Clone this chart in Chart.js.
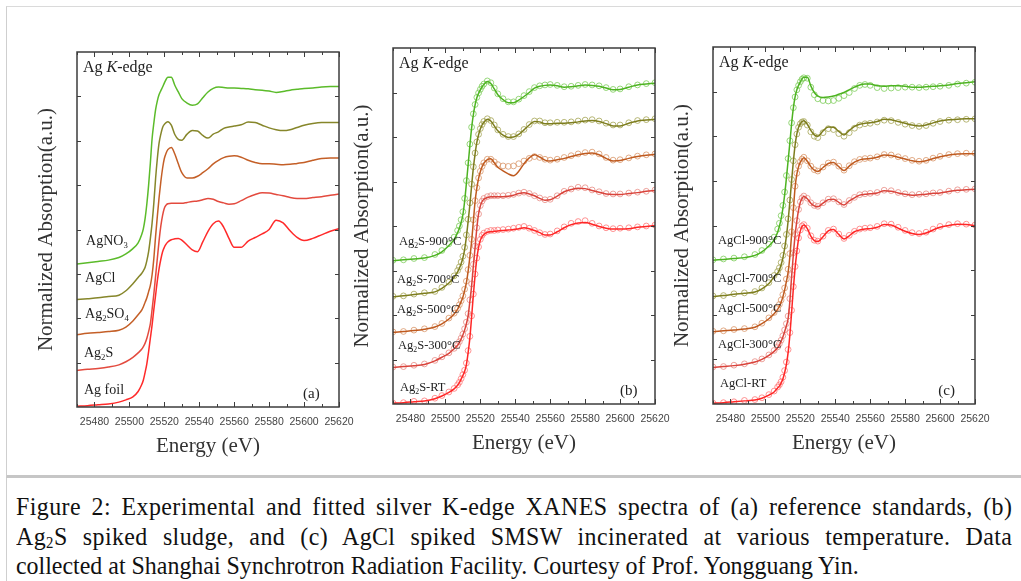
<!DOCTYPE html>
<html>
<head>
<meta charset="utf-8">
<title>Ag K-edge XANES</title>
<script src="https://cdn.jsdelivr.net/npm/chart.js@4.4.1/dist/chart.umd.min.js"></script>
<style>
  html, body { margin: 0; padding: 0; background: #fff; }
  body { position: relative; width: 1021px; height: 581px; overflow: hidden; }
  .box { position: absolute; left: 6px; top: 6px; right: 0; height: 468px;
         border-left: 1px solid #cfcfcf; border-top: 1px solid #dadada; border-bottom: 3px solid #c6c6c6; }
  .side { position: absolute; left: 6px; top: 478px; bottom: 0; border-left: 1px solid #cfcfcf; }
  canvas { position: absolute; top: 0; }
  .caption { position: absolute; left: 16px; top: 492px; width: 1083px;
             font-family: 'Liberation Serif', 'Times New Roman', serif; font-size: 26px; line-height: 29.5px;
             color: #111; transform: scaleX(0.92); transform-origin: 0 0; }
  .caption .j { text-align: justify; text-align-last: justify; letter-spacing: 0.45px; }
  .caption sub { font-size: 0.62em; vertical-align: -0.2em; line-height: 0; }
</style>
</head>
<body>
<div class="box"></div>
<div class="side"></div>
<canvas id="panelA" width="362" height="470" style="left:0px"></canvas>
<canvas id="panelB" width="330" height="470" style="left:340px"></canvas>
<canvas id="panelC" width="361" height="470" style="left:660px"></canvas>
<div class="caption">
  <div class="j">Figure 2: Experimental and fitted silver K-edge XANES spectra of (a) reference standards, (b)</div>
  <div class="j">Ag<sub>2</sub>S spiked sludge, and (c) AgCl spiked SMSW incinerated at various temperature. Data</div>
  <div>collected at Shanghai Synchrotron Radiation Facility. Courtesy of Prof. Yongguang Yin.</div>
</div>
<script>
// energy grid (eV)
const E = [25470, 25476, 25482, 25488, 25494, 25498, 25502, 25505, 25507, 25508, 25509, 25510, 25511, 25512, 25513, 25514, 25515, 25516, 25517, 25518, 25519, 25520, 25521, 25522, 25524, 25526, 25528, 25530, 25533, 25536, 25539, 25542, 25545, 25548, 25551, 25554, 25557, 25560, 25564, 25568, 25572, 25576, 25580, 25584, 25588, 25592, 25596, 25600, 25605, 25610, 25615, 25620];

const xTickLabels = [25480, 25500, 25520, 25540, 25560, 25580, 25600, 25620];
const xMinorTicks = [25470, 25490, 25510, 25530, 25550, 25570, 25590, 25610];
const yTicks = [1, 2, 3, 4, 5, 6, 7];

// (a) reference standards
const agFoil = [0.015, 0.03, 0.05, 0.07, 0.11, 0.16, 0.23, 0.35, 0.5, 0.61, 0.78, 0.98, 1.25, 1.55, 1.85, 2.2, 2.52, 2.85, 3.12, 3.33, 3.5, 3.6, 3.67, 3.72, 3.77, 3.79, 3.8, 3.76, 3.65, 3.54, 3.5, 3.72, 3.96, 4.13, 4.19, 4.05, 3.8, 3.6, 3.6, 3.74, 3.82, 3.9, 4.0, 4.21, 4.15, 3.97, 3.82, 3.75, 3.8, 3.88, 3.96, 4.02];
const ag2S = [0.825, 0.85, 0.87, 0.9, 0.95, 1.02, 1.12, 1.22, 1.3, 1.36, 1.44, 1.55, 1.7, 1.88, 2.2, 2.55, 2.95, 3.35, 3.75, 4.08, 4.32, 4.48, 4.55, 4.58, 4.59, 4.59, 4.59, 4.59, 4.61, 4.63, 4.64, 4.67, 4.7, 4.68, 4.63, 4.6, 4.57, 4.58, 4.65, 4.73, 4.79, 4.83, 4.82, 4.79, 4.76, 4.72, 4.7, 4.7, 4.72, 4.74, 4.77, 4.8];
const ag2SO4 = [1.63, 1.66, 1.68, 1.7, 1.73, 1.8, 1.94, 2.08, 2.18, 2.26, 2.36, 2.46, 2.6, 2.74, 2.98, 3.35, 3.85, 4.3, 4.72, 5.08, 5.38, 5.6, 5.72, 5.8, 5.85, 5.7, 5.48, 5.28, 5.16, 5.16, 5.2, 5.28, 5.37, 5.48, 5.56, 5.62, 5.65, 5.66, 5.63, 5.56, 5.51, 5.48, 5.48, 5.47, 5.46, 5.47, 5.49, 5.51, 5.56, 5.6, 5.61, 5.61];
const agCl = [2.42, 2.44, 2.46, 2.49, 2.52, 2.62, 2.78, 2.92, 3.01, 3.07, 3.15, 3.3, 3.5, 3.8, 4.15, 4.6, 5.15, 5.6, 5.95, 6.15, 6.3, 6.37, 6.41, 6.43, 6.35, 6.14, 6.03, 6.01, 6.15, 6.23, 6.22, 6.12, 6.06, 6.15, 6.2, 6.28, 6.31, 6.33, 6.36, 6.42, 6.41, 6.35, 6.29, 6.25, 6.23, 6.25, 6.3, 6.35, 6.39, 6.41, 6.41, 6.41];
const agNO3 = [3.22, 3.25, 3.28, 3.31, 3.37, 3.45, 3.57, 3.7, 3.88, 4.02, 4.25, 4.58, 5.0, 5.5, 6.05, 6.4, 6.7, 6.9, 7.04, 7.13, 7.21, 7.3, 7.38, 7.43, 7.43, 7.25, 7.1, 6.95, 6.85, 6.8, 6.83, 6.97, 7.1, 7.18, 7.21, 7.2, 7.19, 7.19, 7.18, 7.17, 7.15, 7.14, 7.12, 7.09, 7.11, 7.14, 7.16, 7.18, 7.19, 7.21, 7.22, 7.22];

// (b) Ag2S spiked sludge: fit and experiment
const bRT = [0.015, 0.03, 0.05, 0.07, 0.12, 0.18, 0.26, 0.34, 0.42, 0.48, 0.56, 0.64, 0.73, 0.88, 1.15, 1.48, 1.95, 2.45, 2.9, 3.27, 3.52, 3.68, 3.76, 3.81, 3.86, 3.87, 3.88, 3.89, 3.9, 3.91, 3.92, 3.94, 3.96, 3.94, 3.9, 3.85, 3.8, 3.8, 3.87, 3.96, 4.03, 4.07, 4.08, 4.04, 3.99, 3.95, 3.93, 3.93, 3.94, 3.97, 3.99, 4.01];
const bRTexp = [0.02, 0.03, 0.06, 0.07, 0.13, 0.19, 0.27, 0.35, 0.43, 0.49, 0.57, 0.66, 0.76, 0.92, 1.2, 1.52, 1.98, 2.47, 2.92, 3.28, 3.53, 3.7, 3.79, 3.84, 3.88, 3.9, 3.9, 3.91, 3.92, 3.93, 3.95, 3.97, 3.99, 3.95, 3.9, 3.85, 3.81, 3.82, 3.89, 3.98, 4.06, 4.1, 4.12, 4.06, 4.0, 3.96, 3.94, 3.95, 3.96, 3.98, 4.0, 4.02];
const b300 = [0.82, 0.84, 0.86, 0.89, 0.97, 1.05, 1.14, 1.24, 1.32, 1.38, 1.46, 1.55, 1.66, 1.8, 1.98, 2.3, 2.65, 3.1, 3.52, 3.95, 4.27, 4.45, 4.55, 4.6, 4.64, 4.66, 4.66, 4.66, 4.66, 4.67, 4.69, 4.73, 4.75, 4.72, 4.68, 4.62, 4.58, 4.59, 4.67, 4.77, 4.82, 4.85, 4.84, 4.8, 4.76, 4.72, 4.71, 4.71, 4.73, 4.75, 4.78, 4.8];
const b300exp = [0.83, 0.84, 0.87, 0.9, 0.98, 1.06, 1.15, 1.25, 1.33, 1.4, 1.48, 1.57, 1.69, 1.84, 2.03, 2.34, 2.7, 3.14, 3.55, 3.96, 4.27, 4.46, 4.56, 4.62, 4.66, 4.68, 4.68, 4.68, 4.68, 4.69, 4.71, 4.74, 4.76, 4.73, 4.68, 4.63, 4.59, 4.6, 4.68, 4.78, 4.83, 4.87, 4.86, 4.81, 4.77, 4.73, 4.72, 4.72, 4.74, 4.76, 4.78, 4.81];
const b500 = [1.61, 1.63, 1.65, 1.68, 1.73, 1.8, 1.91, 2.02, 2.13, 2.21, 2.3, 2.4, 2.55, 2.72, 2.98, 3.3, 3.65, 4.1, 4.55, 4.85, 5.07, 5.22, 5.33, 5.41, 5.49, 5.51, 5.42, 5.32, 5.24, 5.17, 5.13, 5.23, 5.4, 5.53, 5.6, 5.55, 5.48, 5.46, 5.49, 5.52, 5.56, 5.6, 5.63, 5.64, 5.6, 5.52, 5.46, 5.47, 5.52, 5.56, 5.59, 5.61];
const b500exp = [1.62, 1.63, 1.66, 1.69, 1.74, 1.81, 1.93, 2.04, 2.15, 2.23, 2.32, 2.43, 2.58, 2.76, 3.02, 3.34, 3.7, 4.14, 4.57, 4.86, 5.08, 5.23, 5.34, 5.42, 5.5, 5.5, 5.44, 5.38, 5.35, 5.34, 5.35, 5.4, 5.46, 5.52, 5.56, 5.54, 5.5, 5.48, 5.5, 5.54, 5.58, 5.62, 5.65, 5.66, 5.62, 5.54, 5.48, 5.49, 5.53, 5.57, 5.6, 5.62];
const b700 = [2.41, 2.43, 2.46, 2.49, 2.52, 2.6, 2.72, 2.85, 2.97, 3.05, 3.15, 3.28, 3.47, 3.75, 4.1, 4.47, 4.9, 5.3, 5.62, 5.88, 6.05, 6.18, 6.27, 6.33, 6.4, 6.36, 6.25, 6.14, 6.04, 5.99, 6.0, 6.06, 6.16, 6.27, 6.35, 6.34, 6.3, 6.3, 6.31, 6.31, 6.32, 6.34, 6.36, 6.37, 6.35, 6.3, 6.25, 6.25, 6.31, 6.36, 6.38, 6.4];
const b700exp = [2.42, 2.43, 2.47, 2.5, 2.53, 2.62, 2.74, 2.88, 3.0, 3.08, 3.19, 3.32, 3.52, 3.8, 4.15, 4.52, 4.94, 5.33, 5.64, 5.89, 6.06, 6.19, 6.28, 6.35, 6.41, 6.37, 6.27, 6.16, 6.06, 6.01, 6.01, 6.07, 6.17, 6.28, 6.36, 6.36, 6.32, 6.32, 6.33, 6.33, 6.34, 6.36, 6.38, 6.39, 6.36, 6.31, 6.27, 6.27, 6.32, 6.37, 6.39, 6.41];
const b900 = [3.22, 3.24, 3.26, 3.28, 3.34, 3.42, 3.56, 3.7, 3.85, 3.95, 4.08, 4.25, 4.55, 4.95, 5.37, 5.8, 6.2, 6.5, 6.72, 6.88, 6.98, 7.06, 7.13, 7.18, 7.25, 7.2, 7.08, 6.95, 6.84, 6.77, 6.77, 6.83, 6.91, 7.0, 7.1, 7.14, 7.16, 7.17, 7.15, 7.12, 7.13, 7.15, 7.17, 7.16, 7.14, 7.1, 7.06, 7.07, 7.12, 7.17, 7.19, 7.21];
const b900exp = [3.23, 3.24, 3.27, 3.29, 3.36, 3.45, 3.6, 3.75, 3.9, 4.0, 4.14, 4.32, 4.62, 5.02, 5.42, 5.84, 6.22, 6.52, 6.73, 6.89, 6.99, 7.07, 7.14, 7.19, 7.26, 7.22, 7.1, 6.97, 6.86, 6.79, 6.79, 6.85, 6.93, 7.02, 7.11, 7.15, 7.17, 7.18, 7.16, 7.13, 7.14, 7.16, 7.18, 7.17, 7.15, 7.11, 7.07, 7.08, 7.13, 7.17, 7.2, 7.22];

// (c) AgCl spiked SMSW: fit and experiment
const cRT = [0.015, 0.03, 0.05, 0.07, 0.09, 0.13, 0.2, 0.27, 0.36, 0.4, 0.47, 0.56, 0.7, 0.88, 1.15, 1.54, 2.05, 2.59, 3.05, 3.41, 3.7, 3.88, 3.98, 4.01, 3.93, 3.76, 3.66, 3.64, 3.75, 3.88, 3.91, 3.8, 3.7, 3.77, 3.86, 3.9, 3.92, 3.93, 3.96, 4.02, 4.01, 3.94, 3.87, 3.82, 3.8, 3.83, 3.9, 3.96, 4.0, 4.03, 4.02, 4.0];
const cRTexp = [0.02, 0.03, 0.05, 0.08, 0.1, 0.14, 0.21, 0.29, 0.38, 0.43, 0.5, 0.6, 0.75, 0.94, 1.22, 1.6, 2.1, 2.63, 3.08, 3.43, 3.72, 3.9, 3.99, 4.02, 3.94, 3.77, 3.67, 3.65, 3.76, 3.89, 3.92, 3.81, 3.71, 3.78, 3.87, 3.92, 3.94, 3.95, 3.98, 4.04, 4.03, 3.96, 3.89, 3.84, 3.82, 3.85, 3.92, 3.98, 4.02, 4.04, 4.03, 4.01];
const c300 = [0.82, 0.84, 0.86, 0.89, 0.94, 1.0, 1.09, 1.18, 1.26, 1.32, 1.4, 1.5, 1.62, 1.75, 1.91, 2.3, 2.85, 3.35, 3.78, 4.1, 4.35, 4.52, 4.61, 4.65, 4.6, 4.5, 4.44, 4.42, 4.5, 4.58, 4.59, 4.52, 4.46, 4.55, 4.62, 4.68, 4.7, 4.71, 4.73, 4.78, 4.77, 4.73, 4.7, 4.68, 4.69, 4.7, 4.72, 4.73, 4.76, 4.79, 4.8, 4.81];
const c300exp = [0.83, 0.84, 0.87, 0.9, 0.95, 1.01, 1.1, 1.2, 1.28, 1.35, 1.43, 1.53, 1.66, 1.8, 1.97, 2.36, 2.9, 3.39, 3.8, 4.11, 4.36, 4.53, 4.62, 4.66, 4.61, 4.51, 4.45, 4.43, 4.51, 4.59, 4.6, 4.53, 4.47, 4.56, 4.63, 4.69, 4.71, 4.72, 4.74, 4.79, 4.78, 4.74, 4.71, 4.69, 4.7, 4.71, 4.73, 4.74, 4.77, 4.8, 4.81, 4.82];
const c500 = [1.62, 1.64, 1.66, 1.68, 1.72, 1.8, 1.91, 2.02, 2.12, 2.19, 2.28, 2.4, 2.55, 2.74, 2.95, 3.3, 3.8, 4.35, 4.85, 5.15, 5.32, 5.42, 5.48, 5.52, 5.44, 5.32, 5.24, 5.21, 5.3, 5.39, 5.41, 5.32, 5.23, 5.33, 5.42, 5.47, 5.49, 5.5, 5.53, 5.58, 5.57, 5.53, 5.49, 5.45, 5.43, 5.45, 5.5, 5.54, 5.58, 5.6, 5.61, 5.61];
const c500exp = [1.63, 1.64, 1.67, 1.69, 1.73, 1.81, 1.93, 2.05, 2.15, 2.23, 2.33, 2.45, 2.6, 2.8, 3.02, 3.37, 3.86, 4.4, 4.88, 5.17, 5.33, 5.43, 5.49, 5.53, 5.45, 5.33, 5.25, 5.22, 5.31, 5.4, 5.42, 5.33, 5.24, 5.34, 5.43, 5.48, 5.5, 5.51, 5.54, 5.59, 5.58, 5.54, 5.5, 5.46, 5.44, 5.46, 5.51, 5.55, 5.59, 5.61, 5.62, 5.62];
const c700 = [2.41, 2.43, 2.46, 2.48, 2.51, 2.58, 2.7, 2.85, 2.93, 3.0, 3.12, 3.27, 3.48, 3.75, 4.1, 4.53, 5.0, 5.43, 5.8, 6.05, 6.2, 6.28, 6.33, 6.35, 6.27, 6.13, 6.03, 6.0, 6.12, 6.21, 6.2, 6.11, 6.03, 6.13, 6.22, 6.27, 6.29, 6.3, 6.33, 6.38, 6.37, 6.33, 6.29, 6.25, 6.23, 6.25, 6.3, 6.34, 6.37, 6.38, 6.39, 6.39];
const c700exp = [2.42, 2.43, 2.47, 2.49, 2.52, 2.6, 2.72, 2.88, 2.97, 3.05, 3.17, 3.33, 3.54, 3.8, 4.15, 4.57, 5.03, 5.45, 5.81, 6.05, 6.2, 6.28, 6.32, 6.33, 6.25, 6.1, 6.0, 5.97, 6.08, 6.17, 6.15, 6.06, 6.0, 6.08, 6.18, 6.25, 6.28, 6.29, 6.32, 6.36, 6.35, 6.31, 6.27, 6.24, 6.22, 6.24, 6.29, 6.33, 6.36, 6.37, 6.38, 6.39];
const c900 = [3.22, 3.24, 3.26, 3.28, 3.33, 3.41, 3.54, 3.68, 3.85, 3.98, 4.15, 4.38, 4.68, 5.05, 5.45, 5.85, 6.28, 6.63, 6.88, 7.04, 7.14, 7.22, 7.29, 7.32, 7.32, 7.13, 6.98, 6.9, 6.87, 6.88, 6.9, 6.94, 6.98, 7.04, 7.1, 7.15, 7.17, 7.17, 7.13, 7.12, 7.13, 7.13, 7.12, 7.1, 7.1, 7.11, 7.12, 7.13, 7.15, 7.18, 7.2, 7.22];
const c900exp = [3.23, 3.25, 3.27, 3.3, 3.35, 3.44, 3.58, 3.74, 3.92, 4.05, 4.22, 4.45, 4.75, 5.12, 5.5, 5.9, 6.3, 6.64, 6.88, 7.04, 7.14, 7.22, 7.28, 7.31, 7.3, 7.1, 6.93, 6.84, 6.8, 6.79, 6.8, 6.85, 6.91, 6.98, 7.07, 7.14, 7.16, 7.14, 7.09, 7.07, 7.08, 7.09, 7.1, 7.1, 7.09, 7.1, 7.11, 7.12, 7.14, 7.17, 7.19, 7.21];

const GREEN = ['#4db321', 'rgba(125,205,90,0.8)'];
const OLIVE = ['#7d7d1e', 'rgba(165,165,85,0.8)'];
const BROWN = ['#bf5a1f', 'rgba(218,150,105,0.8)'];
const DKRED = ['#d9433b', 'rgba(232,140,132,0.8)'];
const RED = ['#ff2626', 'rgba(255,120,120,0.8)'];

const series = (ys) => E.map((e, i) => ({ x: e, y: ys[i] }));

const fitLine = (ys, color) => ({ data: series(ys), borderColor: color, borderWidth: 1.5, order: 1 });
const expDots = (ys, color) => ({
  data: series(ys), showLine: false, order: 2,
  pointRadius: 2.9, pointBorderWidth: 1,
  pointBorderColor: color, pointBackgroundColor: 'rgba(255,255,255,0)'
});

// inward ticks on all four sides + frame
const frameTicks = {
  id: 'frameTicks',
  afterDatasetsDraw(chart) {
    const { ctx, chartArea: a, scales: { x, y } } = chart;
    ctx.save();
    ctx.strokeStyle = '#3d3d3d';
    ctx.lineWidth = 1;
    ctx.beginPath();
    const xt = (v, len) => {
      const px = Math.round(x.getPixelForValue(v)) + 0.5;
      ctx.moveTo(px, a.bottom); ctx.lineTo(px, a.bottom - len);
      ctx.moveTo(px, a.top); ctx.lineTo(px, a.top + len);
    };
    xTickLabels.forEach(v => xt(v, 5));
    xMinorTicks.forEach(v => xt(v, 3));
    yTicks.forEach(v => {
      const py = Math.round(y.getPixelForValue(v)) + 0.5;
      ctx.moveTo(a.left, py); ctx.lineTo(a.left + 4, py);
      ctx.moveTo(a.right, py); ctx.lineTo(a.right - 4, py);
    });
    ctx.stroke();
    ctx.lineWidth = 1.5;
    ctx.strokeRect(a.left, a.top, a.width, a.height);
    ctx.restore();
  }
};

// '_x' -> subscript x, '*..*' -> italic
function richParts(text) {
  const parts = [];
  let italic = false;
  for (let i = 0; i < text.length; i++) {
    const c = text[i];
    if (c === '*') { italic = !italic; continue; }
    if (c === '_') { parts.push({ s: text[++i], sub: true, italic }); continue; }
    const last = parts[parts.length - 1];
    if (last && !last.sub && last.italic === italic) last.s += c;
    else parts.push({ s: c, sub: false, italic });
  }
  return parts;
}

const curveLabels = (items) => ({
  id: 'curveLabels',
  afterDraw(chart) {
    const { ctx, scales: { x, y } } = chart;
    ctx.save();
    ctx.fillStyle = '#222';
    ctx.textBaseline = 'alphabetic';
    items.forEach(item => {
      let px = x.getPixelForValue(item.x);
      const py = y.getPixelForValue(item.y);
      richParts(item.text).forEach(p => {
        const size = p.sub ? item.size * 0.62 : item.size;
        ctx.font = `${p.italic ? 'italic ' : ''}${size}px "Liberation Serif"`;
        ctx.fillText(p.s, px, p.sub ? py + item.size * 0.22 : py);
        px += ctx.measureText(p.s).width;
      });
    });
    ctx.restore();
  }
});

const axisTitleFont = { family: 'Liberation Serif', size: 21 };

function makePanel(id, padding, datasets, labels) {
  new Chart(document.getElementById(id), {
    type: 'line',
    data: { datasets },
    options: {
      responsive: false,
      animation: false,
      devicePixelRatio: 1,
      layout: { padding },
      plugins: { legend: { display: false }, tooltip: { enabled: false } },
      elements: { line: { cubicInterpolationMode: 'monotone' }, point: { radius: 0 } },
      scales: {
        x: {
          type: 'linear', min: 25470, max: 25620,
          afterBuildTicks: s => { s.ticks = xTickLabels.map(v => ({ value: v })); },
          afterFit: s => { s.height = 56; s.paddingLeft = 0; s.paddingRight = 0; },
          grid: { display: false, drawTicks: false },
          border: { display: false },
          ticks: {
            autoSkip: false, maxRotation: 0, padding: 9, color: '#444',
            font: { family: 'Liberation Sans', size: 10.5 },
            callback: v => String(v)
          },
          title: { display: true, text: 'Energy (eV)', font: axisTitleFont, color: '#333', padding: { top: 4, bottom: 4 } }
        },
        y: {
          min: 0, max: 8,
          afterFit: s => { s.width = 47; s.paddingTop = 0; s.paddingBottom = 0; },
          grid: { display: false, drawTicks: false },
          border: { display: false },
          ticks: { display: false },
          title: { display: true, text: 'Normalized Absorption(a.u.)', font: axisTitleFont, color: '#333', padding: { top: 4, bottom: 4 } }
        }
      }
    },
    plugins: [frameTicks, curveLabels(labels)]
  });
}

makePanel('panelA', { left: 30, top: 52, right: 23, bottom: 7 }, [
  fitLine(agNO3, '#5bbb2a'),
  fitLine(agCl, '#86862a'),
  fitLine(ag2SO4, '#c45f27'),
  fitLine(ag2S, '#e34a3e'),
  fitLine(agFoil, '#ff2a2a')
], [
  { text: 'Ag *K*-edge', x: 25473.4, y: 7.55, size: 16 },
  { text: 'AgNO_3', x: 25475.2, y: 3.65, size: 14 },
  { text: 'AgCl', x: 25474.6, y: 2.82, size: 14 },
  { text: 'Ag_2SO_4', x: 25474.6, y: 2.0, size: 14 },
  { text: 'Ag_2S', x: 25474, y: 1.13, size: 14 },
  { text: 'Ag foil', x: 25474, y: 0.29, size: 14 },
  { text: '(a)', x: 25599.4, y: 0.2, size: 15 }
]);

makePanel('panelB', { left: 6, top: 48, right: 15, bottom: 10 }, [
  fitLine(b900, GREEN[0]), expDots(b900exp, GREEN[1]),
  fitLine(b700, OLIVE[0]), expDots(b700exp, OLIVE[1]),
  fitLine(b500, BROWN[0]), expDots(b500exp, BROWN[1]),
  fitLine(b300, DKRED[0]), expDots(b300exp, DKRED[1]),
  fitLine(bRT, RED[0]), expDots(bRTexp, RED[1])
], [
  { text: 'Ag *K*-edge', x: 25473.4, y: 7.55, size: 16 },
  { text: 'Ag_2S-900°C', x: 25473.4, y: 3.57, size: 12.5 },
  { text: 'Ag_2S-700°C', x: 25472.3, y: 2.72, size: 12.5 },
  { text: 'Ag_2S-500°C', x: 25472.3, y: 2.04, size: 12.5 },
  { text: 'Ag_2S-300°C', x: 25472.9, y: 1.24, size: 12.5 },
  { text: 'Ag_2S-RT', x: 25474, y: 0.29, size: 12.5 },
  { text: '(b)', x: 25600, y: 0.2, size: 15 }
]);

makePanel('panelC', { left: 6, top: 47, right: 46, bottom: 10 }, [
  fitLine(c900, GREEN[0]), expDots(c900exp, GREEN[1]),
  fitLine(c700, OLIVE[0]), expDots(c700exp, OLIVE[1]),
  fitLine(c500, BROWN[0]), expDots(c500exp, BROWN[1]),
  fitLine(c300, DKRED[0]), expDots(c300exp, DKRED[1]),
  fitLine(cRT, RED[0]), expDots(cRTexp, RED[1])
], [
  { text: 'Ag *K*-edge', x: 25473.4, y: 7.56, size: 16 },
  { text: 'AgCl-900°C', x: 25472.9, y: 3.58, size: 12.5 },
  { text: 'AgCl-700°C', x: 25472.9, y: 2.73, size: 12.5 },
  { text: 'AgCl-500°C', x: 25472.9, y: 2.06, size: 12.5 },
  { text: 'AgCl-300°C', x: 25472.9, y: 1.25, size: 12.5 },
  { text: 'AgCl-RT', x: 25474, y: 0.37, size: 12.5 },
  { text: '(c)', x: 25599, y: 0.21, size: 15 }
]);
</script>
</body>
</html>
